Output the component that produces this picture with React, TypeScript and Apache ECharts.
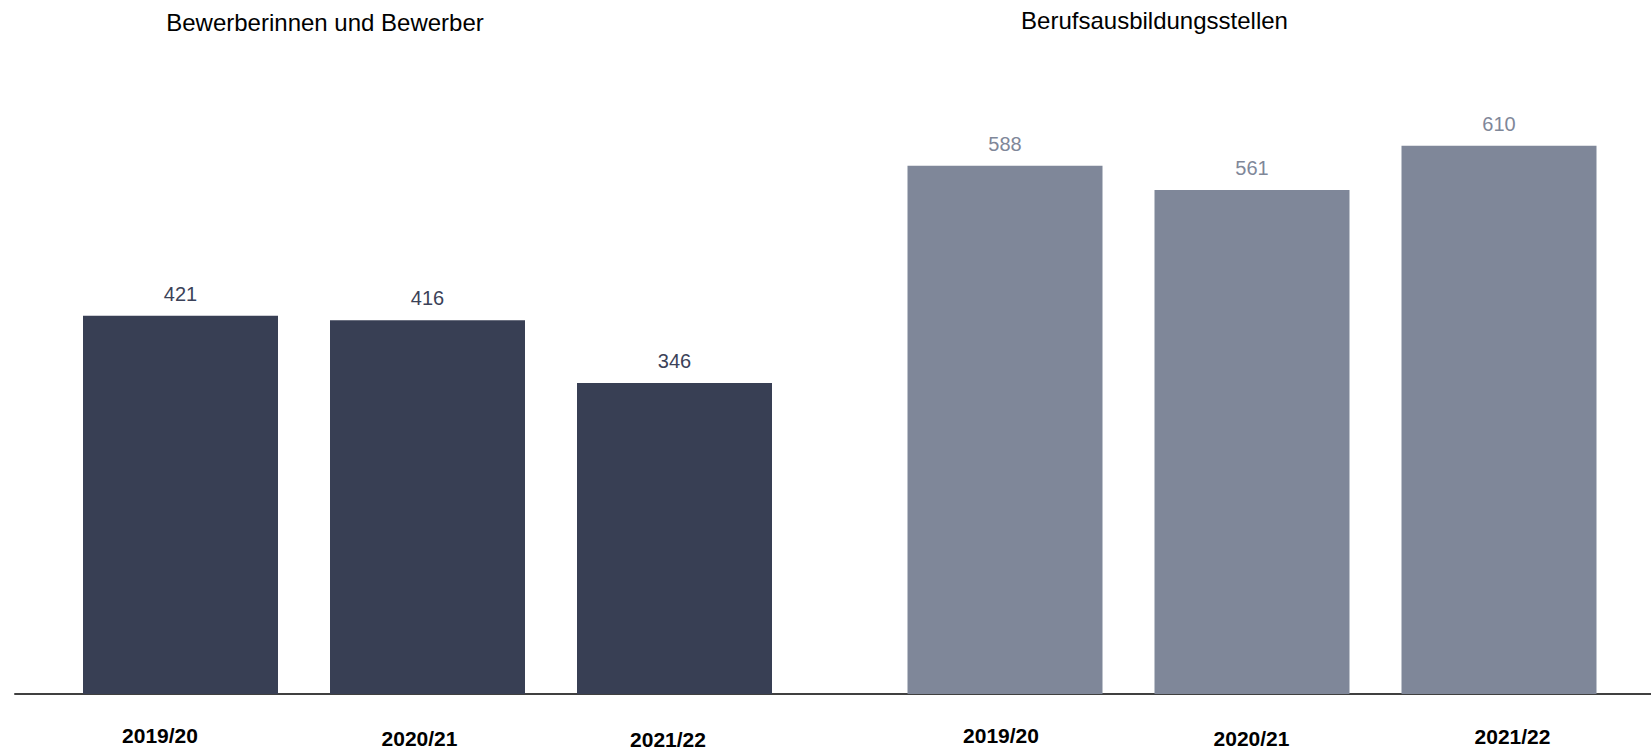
import React, { useEffect, useRef } from "react";
import * as echarts from "echarts";

// ---- data ----
const categories = ["2019/20", "2020/21", "2021/22"];
const applicants = [421, 416, 346];
const trainingPositions = [588, 561, 610];
const panelTitles = ["Bewerberinnen und Bewerber", "Berufsausbildungsstellen"];

// ---- style ----
const FONT = "'Liberation Sans', Arial, Helvetica, sans-serif";
const DARK = "#383f54";
const GREY = "#7f8799";
// per-label nudges [dx, dy] for category labels (visual layout only)
const LEFT_LABEL_NUDGE = [
  [-20.5, 0],
  [-8, 2.7],
  [-6.5, 3.8],
];
const RIGHT_LABEL_NUDGE = [
  [-4, 0],
  [-0.5, 3],
  [13.5, 1.3],
];

function richFor(nudges: number[][]) {
  const rich: Record<string, any> = {};
  nudges.forEach(([dx, dy], i) => {
    const pl = dx > 0 ? 2 * dx : 0;
    const pr = dx < 0 ? -2 * dx : 0;
    rich["c" + i] = {
      fontFamily: FONT,
      fontSize: 21,
      fontWeight: "bold",
      color: "#000000",
      padding: [dy, pr, 0, pl],
    };
  });
  return rich;
}

function categoryAxis(gridIndex: number, nudges: number[][]) {
  return {
    type: "category",
    gridIndex,
    data: categories,
    axisLine: { show: false },
    axisTick: { show: false },
    splitLine: { show: false },
    axisLabel: {
      show: true,
      margin: 31,
      interval: 0,
      formatter: (value: string, index: number) => `{c${index}|${value}}`,
      rich: richFor(nudges),
    },
  };
}

function barSeries(axisIndex: number, data: number[], color: string, labelColor: string) {
  return {
    type: "bar",
    xAxisIndex: axisIndex,
    yAxisIndex: axisIndex,
    data,
    barWidth: 195,
    itemStyle: { color },
    label: {
      show: true,
      position: "top",
      distance: 12,
      fontFamily: FONT,
      fontSize: 20,
      color: labelColor,
    },
  };
}

export default function App() {
  const ref = useRef<HTMLDivElement>(null);

  useEffect(() => {
    document.body.style.margin = "0";
    if (!ref.current) return;
    const chart = echarts.init(ref.current, undefined, { renderer: "svg" });
    chart.setOption({
      animation: false,
      backgroundColor: "#ffffff",
      textStyle: { fontFamily: FONT },
      grid: [
        { left: 57, width: 741, top: 65, bottom: 57 },
        { left: 881.5, width: 741, top: 65, bottom: 57 },
        { left: 15, right: 0, top: 65, bottom: 57 },
      ],
      xAxis: [
        categoryAxis(0, LEFT_LABEL_NUDGE),
        categoryAxis(1, RIGHT_LABEL_NUDGE),
        {
          type: "value",
          gridIndex: 2,
          min: 0,
          max: 1,
          axisLine: { show: true, onZero: false, lineStyle: { color: "#404040", width: 2 } },
          axisTick: { show: false },
          axisLabel: { show: false },
          splitLine: { show: false },
        },
      ],
      yAxis: [
        { type: "value", gridIndex: 0, min: 0, max: 700, show: false },
        { type: "value", gridIndex: 1, min: 0, max: 700, show: false },
        { type: "value", gridIndex: 2, min: 0, max: 1, show: false },
      ],
      series: [
        barSeries(0, applicants, DARK, "#3b4258"),
        barSeries(1, trainingPositions, GREY, "#7f8799"),
      ],
      graphic: [
        {
          type: "text",
          x: 325,
          y: 22,
          style: {
            text: panelTitles[0],
            fontFamily: FONT,
            fontSize: 24,
            fill: "#000000",
            textAlign: "center",
            textVerticalAlign: "middle",
          },
        },
        {
          type: "text",
          x: 1154.5,
          y: 20,
          style: {
            text: panelTitles[1],
            fontFamily: FONT,
            fontSize: 24,
            fill: "#000000",
            textAlign: "center",
            textVerticalAlign: "middle",
          },
        },
      ],
    });
    return () => chart.dispose();
  }, []);

  return <div ref={ref} style={{ width: 1651, height: 751 }} />;
}
